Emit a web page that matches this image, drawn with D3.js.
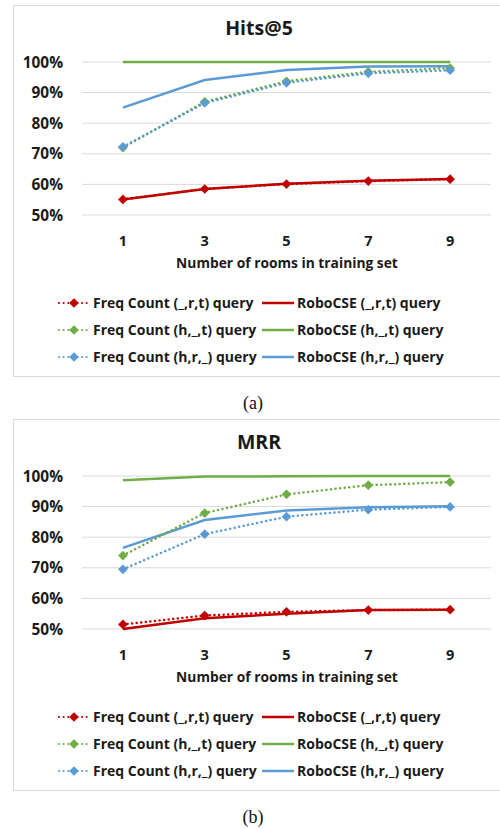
<!DOCTYPE html>
<html>
<head>
<meta charset="utf-8">
<script src="https://cdn.jsdelivr.net/npm/d3@7"></script>
<style>
  body { margin: 0; background: #fff; }
  text { font-family: "Open Sans", sans-serif; }
</style>
</head>
<body>
<svg id="fig" width="500" height="829"></svg>
<script>
// x categories
const rooms = [1, 3, 5, 7, 9];
const yTicks = [0.5, 0.6, 0.7, 0.8, 0.9, 1.0];

// Hits@5 values
const hitsFreqRT = [0.551, 0.585, 0.601, 0.611, 0.617];
const hitsRoboRT = [0.551, 0.585, 0.602, 0.612, 0.618];
const hitsFreqHT = [0.720, 0.870, 0.937, 0.968, 0.980];
const hitsRoboHT = [1.0, 1.0, 1.0, 1.0, 1.0];
const hitsFreqHR = [0.723, 0.866, 0.932, 0.963, 0.973];
const hitsRoboHR = [0.851, 0.941, 0.974, 0.985, 0.986];

// MRR values
const mrrFreqRT = [0.515, 0.544, 0.556, 0.562, 0.563];
const mrrRoboRT = [0.500, 0.535, 0.550, 0.562, 0.563];
const mrrFreqHT = [0.740, 0.879, 0.940, 0.970, 0.980];
const mrrRoboHT = [0.986, 0.998, 0.999, 1.0, 1.0];
const mrrFreqHR = [0.695, 0.810, 0.867, 0.890, 0.899];
const mrrRoboHR = [0.765, 0.856, 0.887, 0.898, 0.901];

const legendNames = [
  ["Freq Count (_,r,t) query", "RoboCSE (_,r,t) query"],
  ["Freq Count (h,_,t) query", "RoboCSE (h,_,t) query"],
  ["Freq Count (h,r,_) query", "RoboCSE (h,r,_) query"]
];
const colors = ["#C00000", "#70AD47", "#5B9BD5"];

const svg = d3.select("svg#fig");

function drawChart(top, title, caption, freq, robo) {
  let g = svg.append("g").attr("transform", `translate(0,${top})`);

  g.append("rect")
    .attr("x", 13.5).attr("y", 5.5)
    .attr("width", 490).attr("height", 371)
    .attr("fill", "none")
    .attr("stroke", "#d9d9d9");

  let x = d3.scalePoint().domain(rooms).range([82, 491]).padding(0.5);
  let y = d3.scaleLinear().domain([0.5, 1.0]).range([215, 62]);

  // gridlines
  g.selectAll("line.grid")
    .data(yTicks)
    .enter()
    .append("line")
    .attr("x1", 82).attr("x2", 491)
    .attr("y1", d => y(d)).attr("y2", d => y(d))
    .attr("stroke", "#d9d9d9")
    .attr("stroke-width", 1);

  g.selectAll("text.ytick")
    .data(yTicks)
    .enter()
    .append("text")
    .attr("x", 63)
    .attr("y", d => y(d))
    .attr("dy", "0.36em")
    .attr("text-anchor", "end")
    .attr("font-size", 15.4)
    .attr("font-weight", "bold")
    .attr("fill", "#1a1a1a")
    .text(d => d3.format(".0%")(d));

  g.selectAll("text.xtick")
    .data(rooms)
    .enter()
    .append("text")
    .attr("x", d => x(d))
    .attr("y", 246)
    .attr("text-anchor", "middle")
    .attr("font-size", 14.5)
    .attr("font-weight", "bold")
    .attr("fill", "#1a1a1a")
    .text(d => d);

  g.append("text")
    .attr("x", 287).attr("y", 268)
    .attr("text-anchor", "middle")
    .attr("font-size", 13.8)
    .attr("font-weight", "bold")
    .attr("fill", "#1a1a1a")
    .text("Number of rooms in training set");

  g.append("text")
    .attr("x", 259).attr("y", 35)
    .attr("text-anchor", "middle")
    .attr("font-size", 19.5)
    .attr("font-weight", "bold")
    .attr("fill", "#1a1a1a")
    .text(title);

  let line = d3.line().x((d, i) => x(rooms[i])).y(d => y(d));
  let diamond = d3.symbol().type(d3.symbolDiamond2).size(60);

  // solid RoboCSE lines
  robo.forEach((s, k) => {
    g.append("path")
      .attr("d", line(s))
      .attr("fill", "none")
      .attr("stroke", colors[k])
      .attr("stroke-width", 2.5);
  });

  // dotted Freq Count lines with diamonds
  freq.forEach((s, k) => {
    g.append("path")
      .attr("d", line(s))
      .attr("fill", "none")
      .attr("stroke", colors[k])
      .attr("stroke-width", 2.5)
      .attr("stroke-dasharray", "0.1 4.5")
      .attr("stroke-linecap", "round");
    g.selectAll(null)
      .data(s)
      .enter()
      .append("path")
      .attr("d", diamond)
      .attr("transform", (d, i) => `translate(${x(rooms[i])},${y(d)})`)
      .attr("fill", colors[k]);
  });

  // legend
  let rowY = [303, 330, 357];
  legendNames.forEach((names, k) => {
    let ly = rowY[k];
    g.append("line")
      .attr("x1", 59).attr("x2", 90)
      .attr("y1", ly).attr("y2", ly)
      .attr("stroke", colors[k])
      .attr("stroke-width", 2)
      .attr("stroke-dasharray", "0.1 4.5")
      .attr("stroke-linecap", "round");
    g.append("path")
      .attr("d", diamond)
      .attr("transform", `translate(74,${ly})`)
      .attr("fill", colors[k]);
    g.append("line")
      .attr("x1", 262).attr("x2", 294)
      .attr("y1", ly).attr("y2", ly)
      .attr("stroke", colors[k])
      .attr("stroke-width", 2.5);
    g.append("text")
      .attr("x", 93).attr("y", ly).attr("dy", "0.36em")
      .attr("font-size", 14)
      .attr("font-weight", "bold")
      .attr("fill", "#1a1a1a")
      .text(names[0]);
    g.append("text")
      .attr("x", 297).attr("y", ly).attr("dy", "0.36em")
      .attr("font-size", 14)
      .attr("font-weight", "bold")
      .attr("fill", "#1a1a1a")
      .text(names[1]);
  });

  g.append("text")
    .attr("x", 253).attr("y", 409)
    .attr("text-anchor", "middle")
    .attr("style", "font-family: 'Liberation Serif', serif")
    .attr("font-size", 18)
    .attr("fill", "#111")
    .text(caption);
}

drawChart(0, "Hits@5", "(a)",
  [hitsFreqRT, hitsFreqHT, hitsFreqHR],
  [hitsRoboRT, hitsRoboHT, hitsRoboHR]);
drawChart(414, "MRR", "(b)",
  [mrrFreqRT, mrrFreqHT, mrrFreqHR],
  [mrrRoboRT, mrrRoboHT, mrrRoboHR]);
</script>
</body>
</html>
